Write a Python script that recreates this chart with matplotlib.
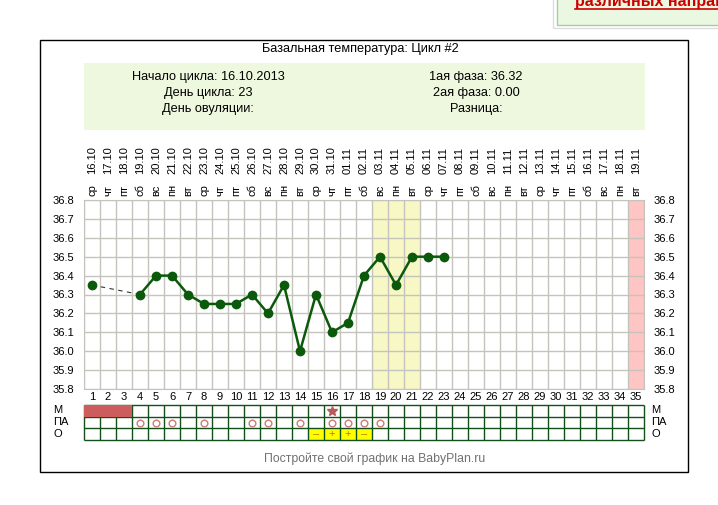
import numpy as np
import matplotlib
matplotlib.use("Agg")
import matplotlib.pyplot as plt
from matplotlib.patches import Rectangle
from matplotlib.lines import Line2D

plt.rcParams['font.family'] = ['Liberation Sans', 'DejaVu Sans']

# --- данные графика ---
days = list(range(1, 36))
dow = ["ср", "чт", "пт", "сб", "вс", "пн", "вт",
       "ср", "чт", "пт", "сб", "вс", "пн", "вт",
       "ср", "чт", "пт", "сб", "вс", "пн", "вт",
       "ср", "чт", "пт", "сб", "вс", "пн", "вт",
       "ср", "чт", "пт", "сб", "вс", "пн", "вт"]
dates = ["16.10", "17.10", "18.10", "19.10", "20.10", "21.10", "22.10",
         "23.10", "24.10", "25.10", "26.10", "27.10", "28.10", "29.10",
         "30.10", "31.10", "01.11", "02.11", "03.11", "04.11", "05.11",
         "06.11", "07.11", "08.11", "09.11", "10.11", "11.11", "12.11",
         "13.11", "14.11", "15.11", "16.11", "17.11", "18.11", "19.11"]

# измерения: день 1 отдельно (пропуск 2-3), дальше подряд с 4 по 23
temp_days = [1, 4, 5, 6, 7, 8, 9, 10, 11, 12, 13, 14, 15, 16, 17, 18, 19, 20, 21, 22, 23]
temps = [36.35, 36.30, 36.40, 36.40, 36.30, 36.25, 36.25, 36.25, 36.30, 36.20,
         36.35, 36.00, 36.30, 36.10, 36.15, 36.40, 36.50, 36.35, 36.50, 36.50, 36.50]

yticks = [35.8, 35.9, 36.0, 36.1, 36.2, 36.3, 36.4, 36.5, 36.6, 36.7, 36.8]

m_days = [1, 2, 3]          # месячные
star_days = [16]            # отметка в строке М
pa_days = [4, 5, 6, 8, 11, 12, 14, 16, 17, 18, 19]   # ПА
o_days = [15, 16, 17, 18]   # тест на овуляцию
o_marks = ["–", "+", "+", "–"]

yellow_days = [19, 20, 21]
pink_days = [35]

W, H = 718, 505


def box(x0, y0, x1, y1):
    # пиксели (сверху вниз) -> доли фигуры
    return [x0 / W, 1 - y1 / H, (x1 - x0) / W, (y1 - y0) / H]


def ftext(x, y, s, **kw):
    fig.text(x / W, 1 - y / H, s, **kw)


fig = plt.figure(figsize=(W / 100, H / 100), dpi=100)
fig.patch.set_facecolor("white")

# --- кусок блока справа сверху (обрезан краем, как в оригинале) ---
fig.add_artist(Rectangle((553 / W, 1 - 28 / H), 200 / W, 40 / H, transform=fig.transFigure,
                         fc="white", ec="#dddddd", lw=1))
fig.add_artist(Rectangle((557 / W, 1 - 25 / H), 200 / W, 40 / H, transform=fig.transFigure,
                         fc="#ebf8e1", ec="#a6cc9f", lw=1))
ftext(575, 6, "различных направлений", color="#cc0000", fontsize=11.5,
      fontweight="bold", va="baseline", ha="left")
fig.add_artist(Line2D([575 / W, 1.0], [1 - 9 / H, 1 - 9 / H], transform=fig.transFigure,
                      color="#cc0000", lw=1.2))

# --- рамка и шапка ---
fig.add_artist(Rectangle((40 / W, 1 - 472 / H), 648 / W, 432 / H, transform=fig.transFigure,
                         fill=False, ec="black", lw=1))
fig.add_artist(Rectangle((84 / W, 1 - 130 / H), 561 / W, 67 / H, transform=fig.transFigure,
                         fc="#eef8de", ec="none"))

ftext(360, 49, "Базальная температура: Цикл #2", fontsize=9.2, ha="center", va="center")
ftext(208, 77, "Начало цикла: 16.10.2013", fontsize=9.2, ha="center", va="center")
ftext(208, 93, "День цикла: 23", fontsize=9.2, ha="center", va="center")
ftext(208, 109, "День овуляции:", fontsize=9.2, ha="center", va="center")
ftext(476, 77, "1ая фаза: 36.32", fontsize=9.2, ha="center", va="center")
ftext(476, 93, "2ая фаза: 0.00", fontsize=9.2, ha="center", va="center")
ftext(476, 109, "Разница:", fontsize=9.2, ha="center", va="center")

# --- температурный график ---
ax = fig.add_axes(box(84, 200, 644, 389))
ax.set_xlim(0.5, 35.5)
ax.set_ylim(35.8, 36.8)
for d in yellow_days:
    ax.axvspan(d - 0.5, d + 0.5, color="#f8f8c6", lw=0, zorder=0.1)
for d in pink_days:
    ax.axvspan(d - 0.5, d + 0.5, color="#ffc4c4", lw=0, zorder=0.1)

ax.set_axisbelow(True)
ax.set_xticks(days)
ax.set_xticks(np.arange(0.5, 36, 1), minor=True)
ax.set_yticks(yticks)
ax.set_yticklabels([f"{v:.1f}" for v in yticks])
ax.grid(True, which="minor", axis="x", color="#c4c4bc", lw=1)
ax.grid(True, which="major", axis="y", color="#c4c4bc", lw=1)
ax.tick_params(which="both", length=0)
ax.tick_params(axis="x", labelsize=8, pad=2.5)
ax.tick_params(axis="y", labelsize=8, pad=7, labelleft=True, labelright=True)
for sp in ax.spines.values():
    sp.set_color("#c4c4bc")

# пунктир через пропущенные дни, дальше сплошная линия
ax.plot(temp_days[:2], temps[:2], color="#333333", lw=0.8, dashes=(4, 4), zorder=3)
ax.plot(temp_days[1:], temps[1:], color="#0b5a0b", lw=1.8, zorder=3)
ax.plot(temp_days, temps, "o", color="#0b5a0b", ms=6, zorder=4)

# подписи дат сверху
tr = ax.get_xaxis_transform()
for d, w, s in zip(days, dow, dates):
    ax.text(d, 1.021, w, transform=tr, rotation=90, ha="center", va="bottom", fontsize=8)
    ax.text(d, 1.135, s, transform=tr, rotation=90, ha="center", va="bottom", fontsize=8)

# --- таблица М / ПА / О ---
tab = fig.add_axes(box(84, 405, 644, 440))
tab.set_xlim(0.5, 35.5)
tab.set_ylim(3, 0)
tab.axis("off")
tab.bar(o_days, 1, bottom=2, width=1, color="#ffff00", lw=0, zorder=1)
tab.vlines(np.arange(0.5, 36, 1), 0, 3, color="#14501a", lw=1, zorder=2, clip_on=False)
tab.hlines([0, 1, 2, 3], 0.5, 35.5, color="#14501a", lw=1, zorder=2, clip_on=False)
tab.bar(m_days, 1, bottom=0, width=1, color="#cd5c5c", lw=0, zorder=3)
tab.plot(star_days, [0.5] * len(star_days), "*", color="#b85a5a", ms=7.5, zorder=4)
tab.plot(pa_days, [1.5] * len(pa_days), "o", mfc="none", mec="#d27a7a", mew=1, ms=4.8, zorder=4)
for d, s in zip(o_days, o_marks):
    tab.text(d, 2.5, s, ha="center", va="center", color="#c07800", fontsize=8, zorder=4)

for lab, y in zip(["М", "ПА", "О"], [410, 422, 434]):
    ftext(53, y, lab, fontsize=8, ha="left", va="center")
    ftext(651, y, lab, fontsize=8, ha="left", va="center")

ftext(375, 459, "Постройте свой график на BabyPlan.ru", fontsize=8.8, color="#707070",
      ha="center", va="center")

fig.savefig("out.png", dpi=100)
